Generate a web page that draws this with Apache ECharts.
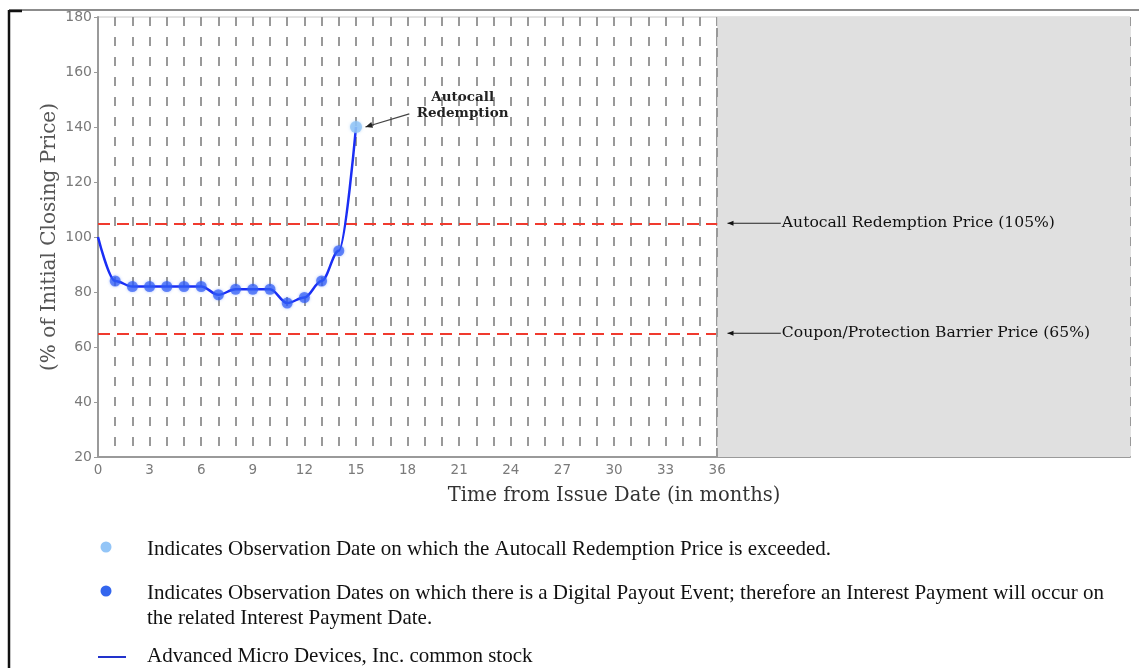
<!DOCTYPE html>
<html><head><meta charset="utf-8">
<script src="https://cdn.jsdelivr.net/npm/echarts@6/dist/echarts.min.js"></script>
<style>html,body{margin:0;padding:0;background:#fff}#c{width:1139px;height:668px}</style>
</head><body><div id="c"></div>
<script>
// ---- data ----
const months = [0,1,2,3,4,5,6,7,8,9,10,11,12,13,14,15];
const closingPct = [100,84,82,82,82,82,82,79,81,81,81,76,78,84,95,140];
const digitalPayoutMonths = [1,2,3,4,5,6,7,8,9,10,11,12,13,14];
const autocallMonths = [15];
const autocallPrice = 105;
const barrierPrice = 65;
const termMonths = 36;
const axisMaxMonths = 60;
const xTickLabels = ['0','3','6','9','12','15','18','21','24','27','30','33','36'];
const yTickLabels = ['20','40','60','80','100','120','140','160','180'];
const labelAutocallPrice = 'Autocall Redemption Price (105%)';
const labelBarrier = 'Coupon/Protection Barrier Price (65%)';
const legendTexts = [
  'Indicates Observation Date on which the Autocall Redemption Price is exceeded.',
  'Indicates Observation Dates on which there is a Digital Payout Event; therefore an Interest Payment will occur on',
  'the related Interest Payment Date.',
  'Advanced Micro Devices, Inc. common stock'
];

const linePts = months.map((m,i)=>[m, closingPct[i]]);
const digitalPts = digitalPayoutMonths.map(m=>[m, closingPct[months.indexOf(m)]]);
const autocallPts = autocallMonths.map(m=>[m, closingPct[months.indexOf(m)]]);

const chart = echarts.init(document.getElementById('c'), null, {renderer:'canvas'});
const serif = '"DejaVu Serif", serif';
const tickFont = '"DejaVu Sans", sans-serif';

const option = {
  animation:false,
  backgroundColor:'#fff',
  grid:{left:98, top:17, right:9, bottom:211, show:true, borderColor:'#c8c8c8', borderWidth:1, backgroundColor:'transparent'},
  xAxis:{
    type:'value', min:0, max:axisMaxMonths, interval:1,
    axisLine:{show:true, lineStyle:{color:'#9a9a9a', width:2}},
    axisTick:{show:false},
    axisLabel:{color:'#7a7a7a', fontFamily:tickFont, fontSize:13.5, margin:6,
      formatter:v=>{ const s=String(v); return xTickLabels.includes(s)?s:''; }},
    splitLine:{show:true, lineStyle:{color:'#999', type:[9,11], width:2}},
    name:'Time from Issue Date (in months)', nameLocation:'middle', nameGap:29,
    nameTextStyle:{color:'#333', fontFamily:serif, fontSize:19.5}
  },
  yAxis:{
    type:'value', min:20, max:180, interval:20,
    axisLine:{show:true, lineStyle:{color:'#9a9a9a', width:2}},
    axisTick:{show:true, length:4, lineStyle:{color:'#9a9a9a'}},
    axisLabel:{color:'#7a7a7a', fontFamily:tickFont, fontSize:14, margin:6,
      formatter:v=>yTickLabels.includes(String(v))?String(v):''},
    splitLine:{show:false},
    name:'(% of Initial Closing Price)', nameLocation:'middle', nameGap:38, nameMoveOverlap:false,
    nameTextStyle:{color:'#555', fontFamily:serif, fontSize:20}
  },
  series:[
    {
      type:'line', data:linePts, smooth:0.35, smoothMonotone:'x', showSymbol:false,
      lineStyle:{color:'#1a2ef5', width:2.5}, z:5,
      markArea:{silent:true, itemStyle:{color:'#e0e0e0'},
        data:[[{xAxis:termMonths},{xAxis:axisMaxMonths}]]},
      markLine:{silent:true, symbol:'none', label:{show:false},
        data:[
          [{coord:[0,autocallPrice], lineStyle:{color:'#f03a2e', type:[12,7], width:2}},{coord:[termMonths,autocallPrice]}],
          [{coord:[0,barrierPrice], lineStyle:{color:'#f03a2e', type:[12,7], width:2}},{coord:[termMonths,barrierPrice]}],
          [{coord:[termMonths,20], lineStyle:{color:'#999', type:[9,11], width:2}},{coord:[termMonths,180]}]
        ]}
    },
    {
      type:'scatter', data:digitalPts, symbolSize:11, z:6,
      itemStyle:{color:'rgba(45,90,245,0.85)', shadowBlur:3, shadowColor:'rgba(60,110,255,0.6)'}
    },
    {
      type:'scatter', data:autocallPts, symbolSize:12, z:6,
      itemStyle:{color:'#8ec3f6', shadowBlur:3, shadowColor:'rgba(140,195,246,0.7)'}
    }
  ]
};
chart.setOption(option);

const P = (x,y)=>chart.convertToPixel({gridIndex:0},[x,y]);
const ac = autocallPts[0];
const aStart = P(ac[0]+3.1, ac[1]+4.8);
const aEnd = P(ac[0]+0.55, ac[1]);
const aText = P(ac[0]+6.2, ac[1]+8.0);
const r1s = P(termMonths+3.7, autocallPrice), r1e = P(termMonths+0.6, autocallPrice);
const r2s = P(termMonths+3.7, barrierPrice), r2e = P(termMonths+0.6, barrierPrice);

function arrowHead(tip, from, color, len, wid){
  const dx=tip[0]-from[0], dy=tip[1]-from[1], L=Math.hypot(dx,dy), ux=dx/L, uy=dy/L;
  const bx=tip[0]-ux*len, by=tip[1]-uy*len;
  return {type:'polygon', shape:{points:[tip,[bx-uy*wid,by+ux*wid],[bx+uy*wid,by-ux*wid]]}, style:{fill:color}, z:20};
}
const legFont = '"Liberation Serif", "Times New Roman", serif';
const graphic = [
  // page frame
  {type:'line', shape:{x1:9, y1:10, x2:1139, y2:10}, style:{stroke:'#666', lineWidth:1.5}, z:1},
  {type:'line', shape:{x1:9, y1:10, x2:9, y2:668}, style:{stroke:'#111', lineWidth:2.5}, z:1},
  {type:'line', shape:{x1:9, y1:11, x2:22, y2:11}, style:{stroke:'#111', lineWidth:2.5}, z:1},
  // autocall annotation
  {type:'line', shape:{x1:aStart[0], y1:aStart[1], x2:aEnd[0], y2:aEnd[1]}, style:{stroke:'#444', lineWidth:1.3}, z:20},
  arrowHead(aEnd, aStart, '#222', 7, 3),
  {type:'text', x:aText[0], y:aText[1], style:{text:'Autocall\nRedemption', fill:'#222', font:'bold 13.5px '+serif, align:'center', verticalAlign:'middle', lineHeight:16}, z:20},
  // right annotations
  {type:'line', shape:{x1:r1s[0], y1:r1s[1], x2:r1e[0], y2:r1e[1]}, style:{stroke:'#222', lineWidth:1.2}, z:20},
  arrowHead(r1e, r1s, '#111', 6, 2.5),
  {type:'text', x:r1s[0]+1, y:r1s[1], style:{text:labelAutocallPrice, fill:'#111', font:'15.6px '+serif, verticalAlign:'middle'}, z:20},
  {type:'line', shape:{x1:r2s[0], y1:r2s[1], x2:r2e[0], y2:r2e[1]}, style:{stroke:'#222', lineWidth:1.2}, z:20},
  arrowHead(r2e, r2s, '#111', 6, 2.5),
  {type:'text', x:r2s[0]+1, y:r2s[1], style:{text:labelBarrier, fill:'#111', font:'15.6px '+serif, verticalAlign:'middle'}, z:20},
  // legend
  {type:'circle', shape:{cx:106, cy:547, r:5.5}, style:{fill:'#93c5f7'}, z:20},
  {type:'text', x:147, y:549, style:{text:legendTexts[0], fill:'#111', font:'21px '+legFont, verticalAlign:'middle'}, z:20},
  {type:'circle', shape:{cx:106, cy:591, r:5.5}, style:{fill:'#3366ee'}, z:20},
  {type:'text', x:147, y:593, style:{text:legendTexts[1], fill:'#111', font:'21px '+legFont, verticalAlign:'middle'}, z:20},
  {type:'text', x:147, y:618, style:{text:legendTexts[2], fill:'#111', font:'21px '+legFont, verticalAlign:'middle'}, z:20},
  {type:'line', shape:{x1:98, y1:657, x2:126, y2:657}, style:{stroke:'#2233cc', lineWidth:2}, z:20},
  {type:'text', x:147, y:656, style:{text:legendTexts[3], fill:'#111', font:'21px '+legFont, verticalAlign:'middle'}, z:20}
];
chart.setOption({graphic});
</script></body></html>
